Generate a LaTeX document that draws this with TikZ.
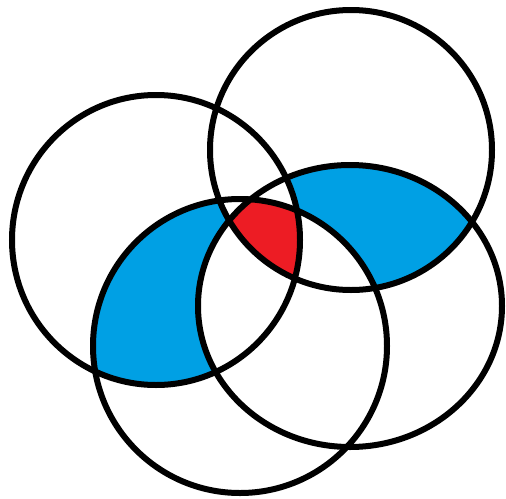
\documentclass[tikz,border=0pt]{standalone}
\usepackage{tikz}
\usetikzlibrary{calc}
\definecolor{paintblue}{RGB}{0,160,228}
\definecolor{paintred}{RGB}{237,28,36}

% the four rings
\newcommand{\ringA}{(cA) ellipse [x radius=144pt, y radius=145pt]}
\newcommand{\ringB}{(cB) ellipse [x radius=141pt, y radius=140pt]}
\newcommand{\ringC}{(cC) ellipse [x radius=147pt, y radius=147pt]}
\newcommand{\ringD}{(cD) ellipse [x radius=152pt, y radius=141pt]}
\newcommand{\outside}{(-10,-10) rectangle (520,510)}

\begin{document}
\begin{tikzpicture}[
    x=1pt, y=-1pt,
    ring/.style={draw=black, line width=6pt},
    lens/.style={fill=paintblue},
    core/.style={fill=paintred}
]
\useasboundingbox[fill=white] (0,0) rectangle (506,498);

% Centres
\coordinate (cA) at (156,240);
\coordinate (cB) at (351,150);
\coordinate (cC) at (240,346);
\coordinate (cD) at (350,306);

% Left blue: A and C, outside B and D
\begin{scope}[even odd rule]
  \clip \outside \ringB;
  \clip \outside \ringD;
  \clip \ringA;
  \fill[lens] \ringC;
\end{scope}

% Right blue: B and D, outside A and C
\begin{scope}[even odd rule]
  \clip \outside \ringA;
  \clip \outside \ringC;
  \clip \ringB;
  \fill[lens] \ringD;
\end{scope}

% Red: all four
\begin{scope}
  \clip \ringA;
  \clip \ringB;
  \clip \ringC;
  \fill[core] \ringD;
\end{scope}

% Outlines
\draw[ring] \ringA;
\draw[ring] \ringB;
\draw[ring] \ringC;
\draw[ring] \ringD;

\end{tikzpicture}
\end{document}
